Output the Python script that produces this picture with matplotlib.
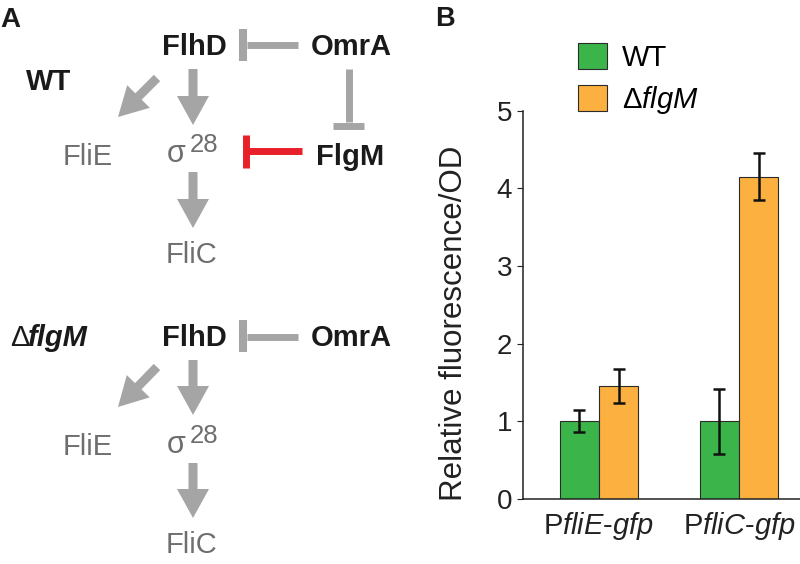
import matplotlib
matplotlib.use("Agg")
import matplotlib.pyplot as plt
from matplotlib.patches import FancyArrow
import numpy as np

plt.rcParams['font.family'] = ['Liberation Sans', 'DejaVu Sans']
plt.rcParams['mathtext.fontset'] = 'custom'
plt.rcParams['mathtext.rm'] = 'Liberation Sans'
plt.rcParams['mathtext.it'] = 'Liberation Sans:italic'
plt.rcParams['mathtext.bf'] = 'Liberation Sans:bold'

# ---------------- data (panel B) ----------------
promoters = ['P$\\mathit{fliE}$-$\\mathit{gfp}$', 'P$\\mathit{fliC}$-$\\mathit{gfp}$']
series_labels = ['WT', 'Δ$\\mathit{flgM}$']
wt_mean = [1.0, 1.0]
wt_err = [0.14, 0.42]
dflgm_mean = [1.45, 4.15]
dflgm_err = [0.22, 0.30]
yticks = [0, 1, 2, 3, 4, 5]

GREEN = '#3bb54a'
ORANGE = '#fbb040'
GRAY = '#a5a5a5'
TXT_GRAY = '#6e6e6e'
DARK = '#1a1a1a'
RED = '#e8202a'

W, H = 800, 564
fig = plt.figure(figsize=(W / 100, H / 100), dpi=100)

# ---------------- panel A: schematic (pixel coordinates) ----------------
bg = fig.add_axes([0, 0, 1, 1])
bg.set_xlim(0, W)
bg.set_ylim(H, 0)
bg.axis('off')

def arrow(x0, y0, x1, y1):
    bg.add_patch(FancyArrow(x0, y0, x1 - x0, y1 - y0, width=9, head_width=32,
                            head_length=29, length_includes_head=True,
                            color=GRAY, lw=0))

def seg(x0, y0, x1, y1, color=GRAY, lw=5.0):
    bg.plot([x0, x1], [y0, y1], color=color, lw=lw, solid_capstyle='butt')

bg.text(0, 27, 'A', fontsize=20, fontweight='bold', color=DARK, ha='left', va='baseline')
bg.text(435, 26, 'B', fontsize=19.5, fontweight='bold', color=DARK, ha='left', va='baseline')

# WT network
bg.text(49, 90, 'WT', fontsize=21, fontweight='bold', color=DARK, ha='center', va='baseline')
bg.text(194, 55, 'FlhD', fontsize=21, fontweight='bold', color=DARK, ha='center', va='baseline')
bg.text(351, 55, 'OmrA', fontsize=21, fontweight='bold', color=DARK, ha='center', va='baseline')
bg.text(350, 165, 'FlgM', fontsize=21, fontweight='bold', color=DARK, ha='center', va='baseline')
bg.text(88, 165, 'FliE', fontsize=21, color=TXT_GRAY, ha='center', va='baseline')
bg.text(186, 162, 'σ', fontsize=22, color=TXT_GRAY, ha='right', va='baseline')
bg.text(190, 152, '28', fontsize=18.5, color=TXT_GRAY, ha='left', va='baseline')
bg.text(192, 263, 'FliC', fontsize=21, color=TXT_GRAY, ha='center', va='baseline')

seg(247, 44.5, 298, 44.5)
seg(243, 29, 243, 61, lw=5.8)
seg(348.5, 69, 348.5, 122)
seg(333, 125.5, 364, 125.5)
seg(248, 151, 302, 151, color=RED)
seg(245.5, 135, 245.5, 168, color=RED)
arrow(193, 69, 193, 125)
arrow(157, 78, 118, 117)
arrow(193, 172, 193, 228)

# delta flgM network
bg.text(10, 346, 'Δ', fontsize=21, color=DARK, ha='left', va='baseline')
bg.text(28, 346, 'flgM', fontsize=21, fontweight='bold', fontstyle='italic', color=DARK,
        ha='left', va='baseline')
bg.text(194, 346, 'FlhD', fontsize=21, fontweight='bold', color=DARK, ha='center', va='baseline')
bg.text(351, 346, 'OmrA', fontsize=21, fontweight='bold', color=DARK, ha='center', va='baseline')
bg.text(88, 455, 'FliE', fontsize=21, color=TXT_GRAY, ha='center', va='baseline')
bg.text(186, 453, 'σ', fontsize=22, color=TXT_GRAY, ha='right', va='baseline')
bg.text(190, 443, '28', fontsize=18.5, color=TXT_GRAY, ha='left', va='baseline')
bg.text(192, 553, 'FliC', fontsize=21, color=TXT_GRAY, ha='center', va='baseline')

seg(247, 336.5, 298, 336.5)
seg(243, 320, 243, 352, lw=5.8)
arrow(193, 360, 193, 415)
arrow(157, 367, 118, 407)
arrow(193, 463, 193, 518)

# ---------------- panel B: bar chart ----------------
ax = fig.add_axes([523 / W, (H - 499) / H, (W - 523) / W, 388.3 / H])
x = np.arange(len(promoters))
bw = 0.282
b1 = ax.bar(x - bw / 2, wt_mean, bw, color=GREEN, edgecolor='#2b2b2b', linewidth=0.8,
            label=series_labels[0], zorder=2)
b2 = ax.bar(x + bw / 2, dflgm_mean, bw, color=ORANGE, edgecolor='#2b2b2b', linewidth=0.8,
            label=series_labels[1], zorder=2)
ax.errorbar(x - bw / 2, wt_mean, yerr=wt_err, fmt='none', ecolor='#111111',
            elinewidth=1.8, capsize=4, capthick=1.8, zorder=3)
ax.errorbar(x + bw / 2, dflgm_mean, yerr=dflgm_err, fmt='none', ecolor='#111111',
            elinewidth=1.8, capsize=4, capthick=1.8, zorder=3)

ax.set_xlim(-(599 - 523) / 140, 1 + (800 - 739) / 140)
ax.set_ylim(0, 5)
ax.set_yticks(yticks)
ax.set_yticklabels([str(v) for v in yticks])
ax.set_xticks(x)
ax.set_xticklabels(promoters)
ax.tick_params(axis='y', direction='out', length=4.3, width=0.8, pad=3.6,
               labelsize=20, colors='#222222')
ax.tick_params(axis='x', length=0, pad=8, labelsize=21, labelcolor='#222222')
for s in ['top', 'right']:
    ax.spines[s].set_visible(False)
for s in ['left', 'bottom']:
    ax.spines[s].set_linewidth(1.1)
    ax.spines[s].set_color('#222222')
ax.set_ylabel('Relative fluorescence/OD', fontsize=22.5, color='#222222')
ax.yaxis.set_label_coords((469 - 523) / 277, (499 - 323) / 388.3)
ax.patch.set_alpha(0)

fig.legend(handles=[b1, b2], labels=series_labels, loc='upper left',
           bbox_to_anchor=(578 / W, 1 - 43 / H), frameon=False, borderpad=0,
           borderaxespad=0, handlelength=1.0, handleheight=1.0, handletextpad=0.5,
           labelspacing=0.4, fontsize=21)

fig.savefig('out.png', dpi=100)
